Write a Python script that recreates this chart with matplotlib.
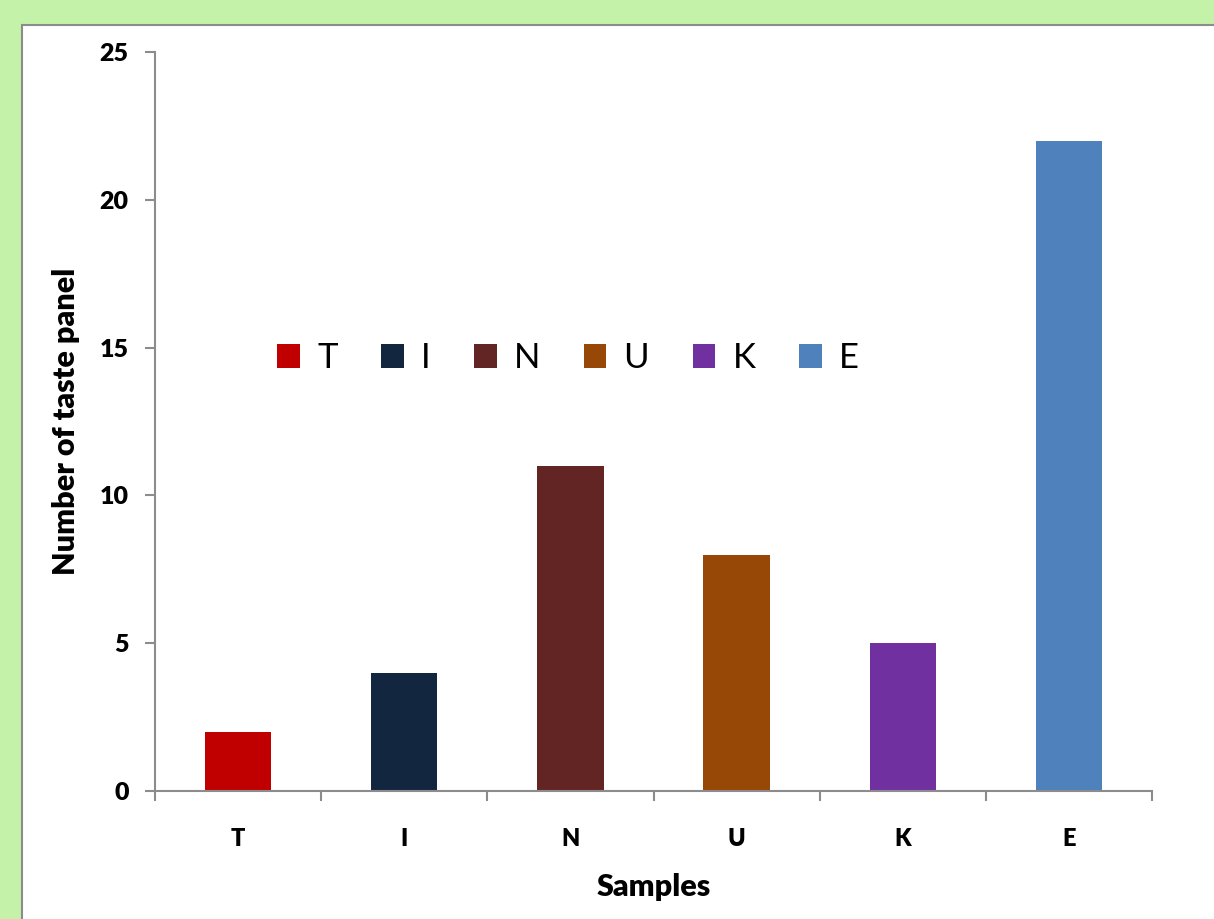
import matplotlib.pyplot as plt
from matplotlib.patches import Rectangle

# Taste panel counts per sample
samples = ['T', 'I', 'N', 'U', 'K', 'E']
panel_counts = [2, 4, 11, 8, 5, 22]
bar_colors = ['#C00000', '#12263F', '#632523', '#974706', '#7030A0', '#4F81BD']
y_ticks = [0, 5, 10, 15, 20, 25]

plt.rcParams['font.family'] = ['Lato', 'DejaVu Sans']

fig = plt.figure(figsize=(12.14, 9.19), dpi=100)
fig.patch.set_facecolor('#C4F2A8')

# white chart area with a grey edge
panel = Rectangle((22 / 1214, -0.01), 1.0, (919 - 25) / 919 + 0.01,
                  transform=fig.transFigure, facecolor='white',
                  edgecolor='#8C8C8C', linewidth=1.5, zorder=-5)
fig.patches.append(panel)

ax = fig.add_axes([155 / 1214, 1 - 791 / 919, (1152 - 155) / 1214, (791 - 52) / 919])
ax.set_facecolor('none')

x = range(len(samples))
bars = ax.bar(x, panel_counts, width=0.4, color=bar_colors, label=samples)

ax.set_xlim(-0.5, len(samples) - 0.5)
ax.set_ylim(0, 25)
ax.set_yticks(y_ticks)
ax.set_yticklabels([str(t) for t in y_ticks], fontsize=18, fontweight='heavy')
ax.set_xticks(list(x))
ax.set_xticklabels(samples, fontsize=17, fontweight='heavy')
ax.set_xticks([i - 0.5 for i in range(len(samples) + 1)], minor=True)
ax.tick_params(axis='x', which='major', length=0, pad=27)
ax.tick_params(axis='x', which='minor', length=7, width=1.5, color='#8C8C8C', direction='out')
ax.tick_params(axis='y', length=7, width=1.5, color='#8C8C8C', direction='out', pad=12)

for side in ['top', 'right']:
    ax.spines[side].set_visible(False)
for side in ['left', 'bottom']:
    ax.spines[side].set_color('#8C8C8C')
    ax.spines[side].set_linewidth(1.5)

ax.set_xlabel('Samples', fontsize=22, fontweight='heavy', labelpad=16)
ax.set_ylabel('Number of taste panel', fontsize=22, fontweight='heavy', labelpad=14)

fig.legend(bars, samples, loc='center', bbox_to_anchor=(568 / 1214, 1 - 358 / 919),
           ncol=6, frameon=False, fontsize=25, handlelength=0.65, handleheight=0.7,
           handletextpad=0.5, columnspacing=1.25)

fig.savefig('out.png', dpi=100, facecolor=fig.get_facecolor())
